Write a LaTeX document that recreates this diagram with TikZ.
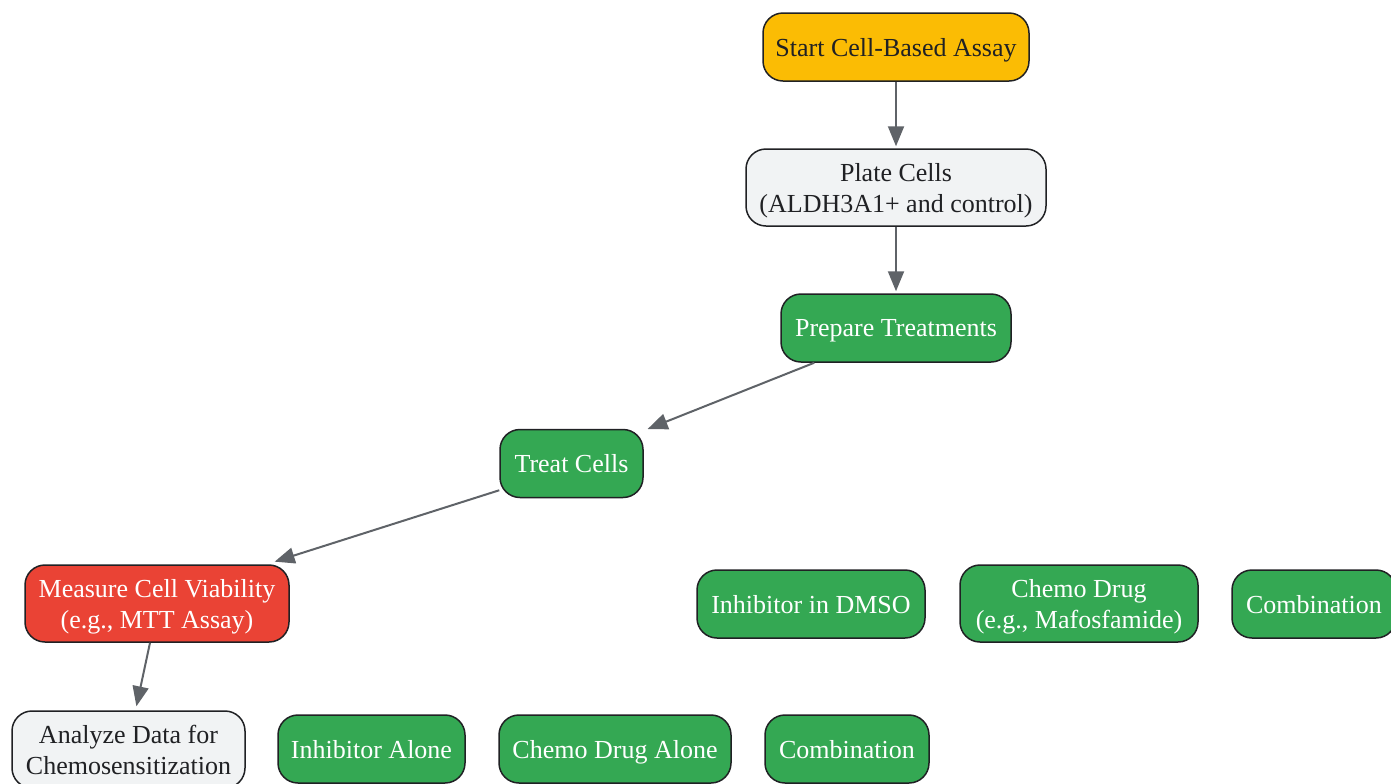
\documentclass[tikz,border=0pt]{standalone}
\usepackage{fontspec}
\setmainfont{Liberation Serif}
\usetikzlibrary{arrows.meta,calc}
\definecolor{startc}{HTML}{FBBC04}
\definecolor{stepc}{HTML}{34A853}
\definecolor{measc}{HTML}{EA4335}
\definecolor{lightc}{HTML}{F1F3F4}
\definecolor{linec}{HTML}{5F6368}
\definecolor{edgec}{HTML}{202124}
\tikzset{
    box/.style =    {rectangle,
                    rounded corners=10pt,
                    draw=edgec,
                    line width=0.75pt,
                    align=center,
                    inner sep=0pt,
                    text depth=0pt,
                    minimum height=34pt,
                    font=\fontsize{13}{15.5}\selectfont},
    startbox/.style = {box,
                    fill=startc,
                    text=edgec},
    lightbox/.style = {box,
                    fill=lightc,
                    text=edgec,
                    minimum height=38.5pt},
    greenbox/.style = {box,
                    fill=stepc,
                    text=white},
    redbox/.style = {box,
                    fill=measc,
                    text=white,
                    minimum height=38.5pt},
    -,
    flow/.style =   {color=linec,
                    line width=1pt,
                    shorten >=1pt,
                    -{Triangle[length=10pt,width=8pt]}}}

\begin{document}
\begin{tikzpicture}[x=0.5pt,y=-0.5pt]
                \useasboundingbox (0,0) rectangle (1391,783);
                \node[startbox,minimum width=133pt] (start)   at (896,47)    {Start Cell-Based Assay};
                \node[lightbox,minimum width=150pt] (plate)   at (896,187.5) {Plate Cells\\(ALDH3A1+ and control)};
                \node[greenbox,minimum width=115pt] (prepare) at (896,328)   {Prepare Treatments};
                \node[greenbox,minimum width=71.5pt] (treat)  at (571.5,463.5) {Treat Cells};
                \node[redbox,minimum width=132pt]   (measure) at (157,603.5) {Measure Cell Viability\\(e.g., MTT Assay)};
                \node[lightbox,minimum width=116.5pt] (analyze) at (128.5,749.5) {Analyze Data for\\Chemosensitization};
                % treatment groups
                \node[greenbox,minimum width=114pt] (dmso)    at (811,604)   {Inhibitor in DMSO};
                \node[greenbox,minimum width=119pt,minimum height=38.5pt] (chemo) at (1079,603.5) {Chemo Drug\\(e.g., Mafosfamide)};
                \node[greenbox,minimum width=82pt]  (combo)   at (1314,604)  {Combination};
                % treatment arms
                \node[greenbox,minimum width=93.5pt] (inhalone)  at (371.5,749) {Inhibitor Alone};
                \node[greenbox,minimum width=116pt]  (chemoalone) at (615,749)  {Chemo Drug Alone};
                \node[greenbox,minimum width=82pt]   (comboarm)  at (847,749)   {Combination};
                \draw [flow] (start) -- (plate);
                \draw [flow] (plate) -- (prepare);
                \draw [flow] ($(prepare.south west)+(34,0)$) -- ($(treat.north east)+(2,1)$);
                \draw [flow] ($(treat.south west)+(0,-8)$) -- ($(measure.north east)+(-17,-2)$);
                \draw [flow] ($(measure.south)+(-7,0)$) -- ($(analyze.north)+(7.5,-2)$);
        \end{tikzpicture}
\end{document}
